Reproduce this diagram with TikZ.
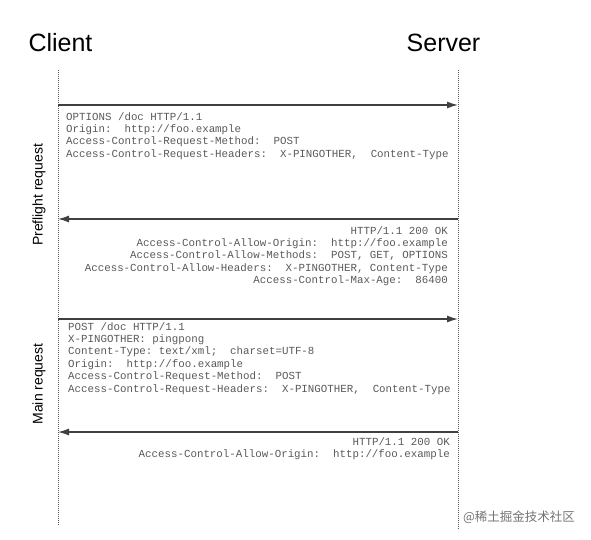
\documentclass[tikz,border=0pt]{standalone}
\usepackage{fontspec}
\setmainfont{Liberation Sans}
\setmonofont{Liberation Mono}
\newfontfamily\cjk{Noto Sans CJK SC}
\usetikzlibrary{arrows.meta}
\begin{document}
\begin{tikzpicture}[x=1pt, y=-1pt,
  hdr/.style={font=\fontsize{25}{30}\selectfont},
  phase/.style={font=\fontsize{14}{17}\selectfont, rotate=90},
  lifeline/.style={gray!70!black, line width=0.8pt, dash pattern=on 1pt off 1pt},
  msg/.style={black!75, line width=1.3pt, -{Latex[length=11pt,width=7pt]}},
  http/.style={font=\ttfamily\fontsize{10.8}{12.4}\selectfont, text=black!65, inner sep=0pt}]
\useasboundingbox (0,0) rectangle (591,539);
\node[hdr] (client) at (60.5,43) {Client};
\node[hdr] (server) at (443.5,43) {Server};
% lifelines
\coordinate (c-top) at (58,70);
\coordinate (c-end) at (58,526);
\coordinate (s-top) at (458,70);
\coordinate (s-end) at (458,530);
\draw[lifeline] (c-top) -- (c-end);
\draw[lifeline] (s-top) -- (s-end);
% message ends
\coordinate (c1) at (58,105);  \coordinate (s1) at (458,105);
\coordinate (c2) at (58,219);  \coordinate (s2) at (458,219);
\coordinate (c3) at (58,319);  \coordinate (s3) at (458,319);
\coordinate (c4) at (58,432);  \coordinate (s4) at (458,432);
\node[phase] (preflight) at (39,195) {Preflight request};
\node[phase] (main) at (39,384) {Main request};
% preflight
\draw[msg] (c1) -- (s1);
\node[http, anchor=north west, align=left] (opt-req) at (66,112)
  {OPTIONS /doc HTTP/1.1\\
   Origin:~~http://foo.example\\
   Access-Control-Request-Method:~~POST\\
   Access-Control-Request-Headers:~~X-PINGOTHER,~~Content-Type};
\draw[msg] (s2) -- (c2);
\node[http, anchor=north east, align=right] (opt-res) at (448,226)
  {HTTP/1.1 200 OK\\
   Access-Control-Allow-Origin:~~http://foo.example\\
   Access-Control-Allow-Methods:~~POST, GET, OPTIONS\\
   Access-Control-Allow-Headers:~~X-PINGOTHER, Content-Type\\
   Access-Control-Max-Age:~~86400};
% main
\draw[msg] (c3) -- (s3);
\node[http, anchor=north west, align=left] (post-req) at (68,322)
  {POST /doc HTTP/1.1\\
   X-PINGOTHER: pingpong\\
   Content-Type: text/xml;~~charset=UTF-8\\
   Origin:~~http://foo.example\\
   Access-Control-Request-Method:~~POST\\
   Access-Control-Request-Headers:~~X-PINGOTHER,~~Content-Type};
\draw[msg] (s4) -- (c4);
\node[http, anchor=north east, align=right] (post-res) at (450,437)
  {HTTP/1.1 200 OK\\
   Access-Control-Allow-Origin:~~http://foo.example};
\node[font=\cjk\fontsize{12.5}{15}\selectfont, text=black!55] (mark) at (519,517) {@稀土掘金技术社区};
\end{tikzpicture}
\end{document}
